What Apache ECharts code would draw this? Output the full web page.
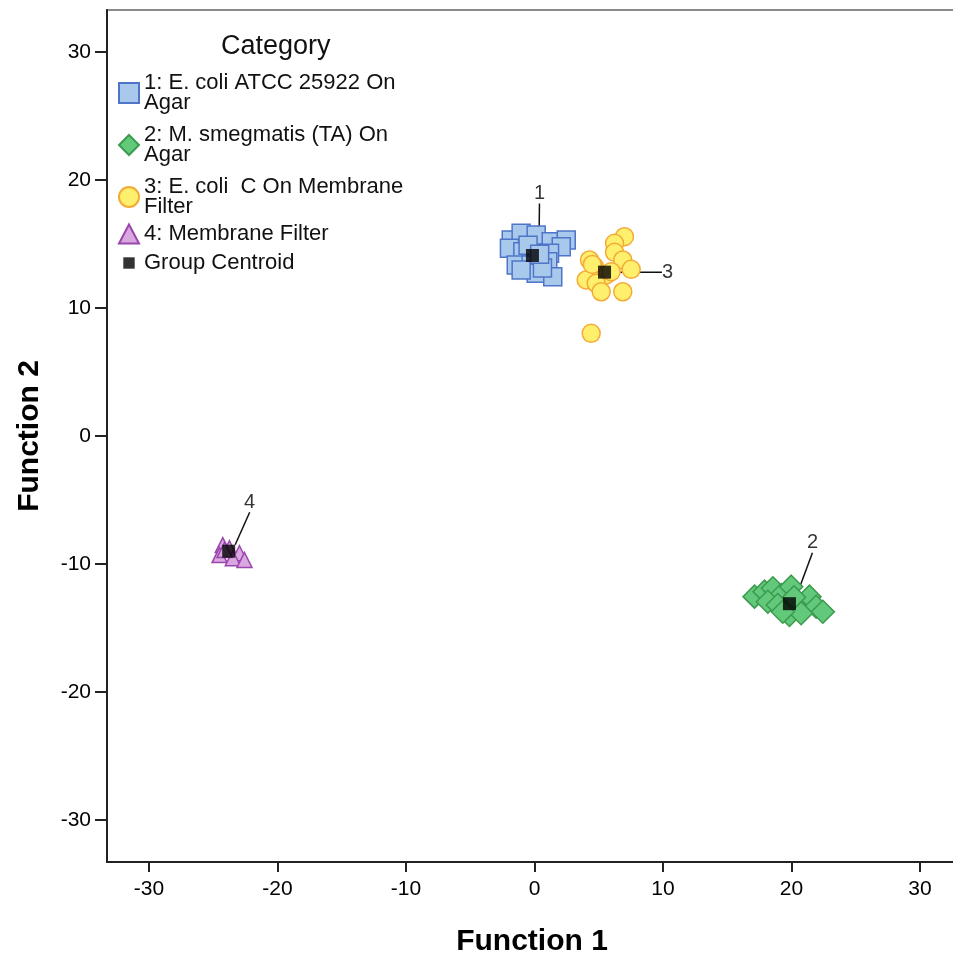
<!DOCTYPE html>
<html>
<head>
<meta charset="utf-8">
<script src="https://cdn.jsdelivr.net/npm/echarts@6/dist/echarts.min.js"></script>
<style>html,body{margin:0;padding:0;background:#fff;}#chart{width:953px;height:956px;}</style>
</head>
<body>
<div id="chart"></div>
<script>
// ---- data ----
const seriesNames = [
  '1: E. coli ATCC 25922 On\nAgar',
  '2: M. smegmatis (TA) On\nAgar',
  '3: E. coli  C On Membrane\nFilter',
  '4: Membrane Filter',
  'Group Centroid'
];
const ecoliAgar = [
  [-1.81, 15.31], [-1.04, 15.84], [0.13, 15.70], [1.30, 15.18], [2.47, 15.31],
  [2.08, 14.79], [-1.95, 14.66], [-0.91, 14.40], [1.17, 14.27], [-1.42, 13.36],
  [-0.26, 13.36], [1.03, 13.62], [0.13, 12.71], [1.42, 12.45], [-1.04, 12.97],
  [0.62, 13.12], [-0.5, 14.9], [0.4, 14.2]
];
const smegmatisAgar = [
  [17.12, -12.55], [17.90, -12.16], [18.55, -11.90], [19.20, -12.42], [19.98, -11.77],
  [18.16, -12.95], [18.93, -13.20], [20.49, -13.07], [21.40, -12.55], [21.92, -13.34],
  [22.44, -13.73], [19.84, -13.98], [20.75, -13.85], [19.32, -13.73], [20.2, -12.6]
];
const ecoliMembrane = [
  [7.00, 15.57], [6.23, 15.05], [6.23, 14.35], [6.87, 13.75], [7.52, 13.02],
  [4.28, 13.75], [4.67, 13.23], [5.58, 12.58], [4.02, 12.19], [4.80, 11.93],
  [5.19, 11.27], [6.87, 11.27], [4.41, 8.02], [5.97, 12.84], [4.5, 13.4]
];
const membraneFilter = [
  [-24.26, -8.52], [-23.74, -8.77], [-24.51, -9.30], [-22.96, -9.16],
  [-23.48, -9.55], [-22.57, -9.69], [-24.12, -8.90]
];
const centroids = [
  { label: '1', value: [-0.16, 14.1] },
  { label: '2', value: [19.84, -13.1] },
  { label: '3', value: [5.45, 12.8] },
  { label: '4', value: [-23.8, -9.0] }
];
const xTicks = [-30, -20, -10, 0, 10, 20, 30];
const yTicks = [-30, -20, -10, 0, 10, 20, 30];

// ---- chart ----
const chart = echarts.init(document.getElementById('chart'), null, { renderer: 'canvas' });
const font = 'Liberation Sans, Arial, sans-serif';
const labelOffsets = { '1': [7, -62], '2': [23, -61], '3': [63, 0], '4': [21, -49] };
const legendText = { fontSize: 22, lineHeight: 20, color: '#111', fontFamily: font };

const option = {
  animation: false,
  backgroundColor: '#fff',
  textStyle: { fontFamily: font },
  title: {
    text: 'Category', left: 216, top: 28,
    textStyle: { fontSize: 27, fontWeight: 'normal', color: '#111', fontFamily: font }
  },
  legend: [
    {
      orient: 'vertical', left: 113, top: 67,
      itemWidth: 20, itemHeight: 20, itemGap: 10,
      textStyle: legendText,
      data: [
        { name: seriesNames[0], icon: 'rect' },
        { name: seriesNames[1], icon: 'diamond' },
        { name: seriesNames[2], icon: 'circle' }
      ]
    },
    {
      orient: 'vertical', left: 113, top: 218,
      itemWidth: 20, itemHeight: 19, itemGap: 7,
      textStyle: legendText,
      data: [
        { name: seriesNames[3], icon: 'triangle' },
        { name: seriesNames[4], icon: 'path://M0,0 M20,20 M4,4 L16,4 L16,16 L4,16 Z' }
      ]
    }
  ],
  grid: {
    left: 107, top: 10, width: 850, height: 852,
    outerBoundsMode: 'none', containLabel: false,
    show: true, borderColor: '#8a8a8a', borderWidth: 2, backgroundColor: 'transparent'
  },
  xAxis: {
    type: 'value', min: -33.27, max: 32.88,
    name: 'Function 1', nameLocation: 'middle', nameGap: 65,
    nameTextStyle: { fontSize: 30, fontWeight: 'bold', color: '#000', fontFamily: font },
    axisLine: { show: true, onZero: false, lineStyle: { color: '#222', width: 2 } },
    axisTick: { show: true, length: 10, customValues: xTicks, lineStyle: { color: '#222', width: 2 } },
    axisLabel: { customValues: xTicks, fontSize: 21, color: '#000', margin: 17, fontFamily: font },
    splitLine: { show: false }
  },
  yAxis: {
    type: 'value', min: -33.28, max: 33.28,
    name: 'Function 2', nameLocation: 'middle', nameGap: 62,
    nameTextStyle: { fontSize: 30, fontWeight: 'bold', color: '#000', fontFamily: font },
    axisLine: { show: true, onZero: false, lineStyle: { color: '#222', width: 2 } },
    axisTick: { show: true, length: 12, customValues: yTicks, lineStyle: { color: '#222', width: 2 } },
    axisLabel: { customValues: yTicks, fontSize: 21, color: '#000', margin: 16, fontFamily: font },
    splitLine: { show: false }
  },
  series: [
    {
      name: seriesNames[0], type: 'scatter', symbol: 'rect', symbolSize: 18,
      itemStyle: { color: '#a9c9ec', borderColor: '#4f75c9', borderWidth: 1.5, opacity: 1 },
      data: ecoliAgar
    },
    {
      name: seriesNames[1], type: 'scatter', symbol: 'diamond', symbolSize: 23,
      itemStyle: { color: '#62c87a', borderColor: '#3c9a50', borderWidth: 1.5, opacity: 1 },
      data: smegmatisAgar
    },
    {
      name: seriesNames[2], type: 'scatter', symbol: 'circle', symbolSize: 18,
      itemStyle: { color: '#fef06c', borderColor: '#f4aa36', borderWidth: 1.5, opacity: 1 },
      data: ecoliMembrane
    },
    {
      name: seriesNames[3], type: 'scatter', symbol: 'triangle', symbolSize: 15,
      itemStyle: { color: '#d9a8e0', borderColor: '#9b46ad', borderWidth: 1.5, opacity: 1 },
      data: membraneFilter
    },
    {
      name: seriesNames[4], type: 'scatter', symbol: 'rect', symbolSize: 13,
      itemStyle: { color: '#000', borderColor: '#000', borderWidth: 0 },
      label: {
        show: true, position: 'inside', fontSize: 20, color: '#000', fontFamily: font,
        formatter: p => p.data.label
      },
      labelLayout: p => {
        const d = centroids[p.dataIndex];
        const o = labelOffsets[d.label];
        return { dx: o[0], dy: o[1] };
      },
      labelLine: { show: true, lineStyle: { color: '#111', width: 1.5 } },
      data: centroids.map(c => ({ value: c.value, label: c.label }))
    }
  ]
};
chart.setOption(option);
</script>
</body>
</html>
